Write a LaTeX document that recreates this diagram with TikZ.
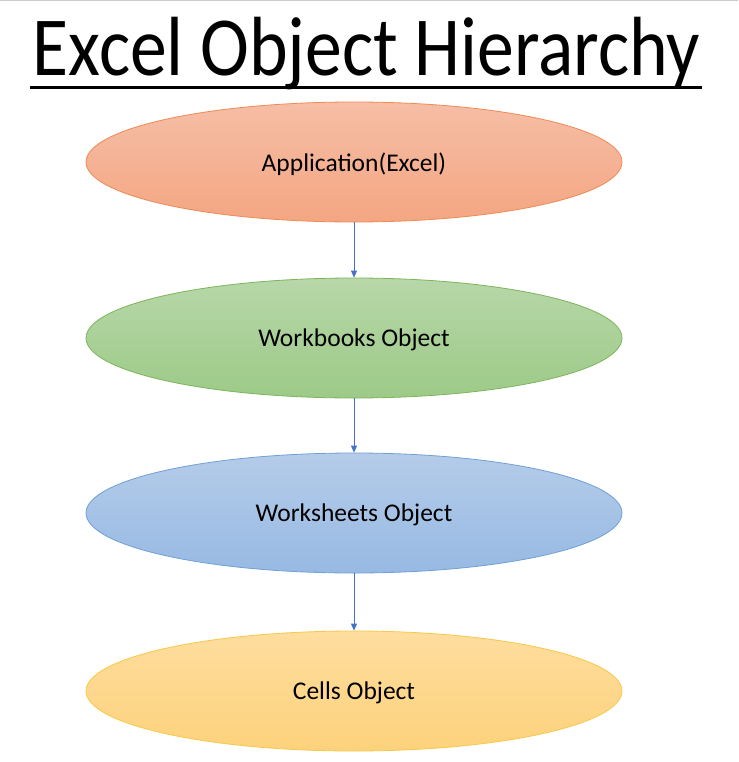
\documentclass[tikz,border=0pt]{standalone}
\usepackage{fontspec}
\usepackage{graphicx}
\setmainfont{Carlito}
\usetikzlibrary{shapes.geometric,arrows.meta}
\definecolor{orTop}{HTML}{F6BEA6}
\definecolor{orBot}{HTML}{F4A682}
\definecolor{orLine}{HTML}{EE8A55}
\definecolor{grTop}{HTML}{B7D7A8}
\definecolor{grBot}{HTML}{9DCA88}
\definecolor{grLine}{HTML}{7DB55A}
\definecolor{blTop}{HTML}{B5CCE9}
\definecolor{blBot}{HTML}{97B9E3}
\definecolor{blLine}{HTML}{6FA0D6}
\definecolor{yeTop}{HTML}{FEDD9E}
\definecolor{yeBot}{HTML}{FDD27C}
\definecolor{yeLine}{HTML}{F8C848}
\definecolor{arrowBlue}{HTML}{4472C4}
\tikzset{
  oval/.style={ellipse, minimum width=536pt, minimum height=120pt, inner sep=0pt, line width=0.8pt, font=\fontsize{25.5}{30}\selectfont, text=black},
  lbl/.style={font=\fontsize{25.5}{30}\selectfont, text=black, inner sep=0pt},
  link/.style={draw=arrowBlue, line width=0.9pt, -{Triangle[length=7pt,width=6pt]}}
}
\begin{document}
\begin{tikzpicture}[x=1pt,y=-1pt]
\useasboundingbox[fill=white] (0,0) rectangle (738,762);
\draw[gray!40, line width=1.5pt] (0,0.75) -- (738,0.75);
\node[anchor=base, inner sep=0pt, font=\fontsize{84}{90}\selectfont] (title) at (366.5,76) {\scalebox{0.877}[1]{Excel Object Hierarchy}};
\draw[black, line width=3pt] (30,88) -- (702,88);
\node[oval, draw=orLine, top color=orTop, bottom color=orBot] (app) at (354,162) {};
\node[oval, draw=grLine, top color=grTop, bottom color=grBot] (wb) at (354,338) {};
\node[oval, draw=blLine, top color=blTop, bottom color=blBot] (ws) at (354,513) {};
\node[oval, draw=yeLine, top color=yeTop, bottom color=yeBot] (cells) at (354,691) {};
\node[lbl] (appT) at (354,164) {Application(Excel)};
\node[lbl] (wbT) at (354,340) {Workbooks Object};
\node[lbl] (wsT) at (354,515) {Worksheets Object};
\node[lbl] (cellsT) at (354,693) {Cells Object};
\draw[link] (app.south) -- (wb.north);
\draw[link] (wb.south) -- (ws.north);
\draw[link] (ws.south) -- (cells.north);
\end{tikzpicture}
\end{document}
